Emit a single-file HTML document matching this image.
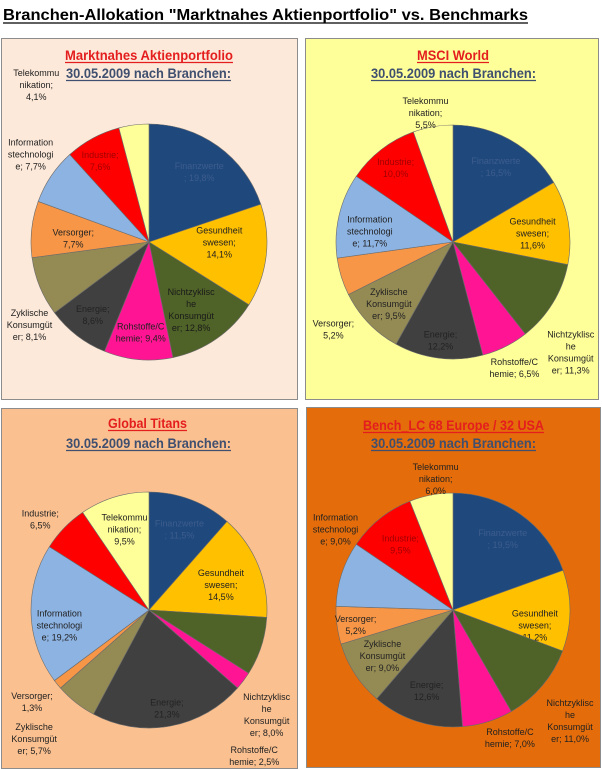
<!DOCTYPE html>
<html><head><meta charset="utf-8"><style>
html,body{margin:0;padding:0;background:#fff;}
svg{display:block;font-family:"Liberation Sans",sans-serif;}
</style></head><body>
<svg id="chart" width="602" height="770" viewBox="0 0 602 770" xmlns="http://www.w3.org/2000/svg">
<text x="3" y="20" font-size="16" font-weight="bold" textLength="525" lengthAdjust="spacingAndGlyphs" fill="#000">Branchen-Allokation "Marktnahes Aktienportfolio" vs. Benchmarks</text>
<line x1="3" y1="23" x2="528" y2="23" stroke="#000" stroke-width="1.3"/>
</svg>
<script>
const categories = ["Finanzwerte","Gesundheitswesen","Nichtzyklische Konsumgüter","Rohstoffe/Chemie","Energie","Zyklische Konsumgüter","Versorger","Informationstechnologie","Industrie","Telekommunikation"];
const seriesMarktnahes = [19.8,14.1,12.8,9.4,8.6,8.1,7.7,7.7,7.6,4.1];
const seriesMSCI = [16.5,11.6,11.3,6.5,12.2,9.5,5.2,11.7,10.0,5.5];
const seriesTitans = [11.5,14.5,8.0,2.5,21.3,5.7,1.3,19.2,6.5,9.5];
const seriesBench = [19.5,11.2,11.0,7.0,12.6,9.0,5.2,9.0,9.5,6.0];
const chartTitles = ["Marktnahes Aktienportfolio","MSCI World","Global Titans","Bench_LC 68 Europe / 32 USA"];
const subTitle = "30.05.2009 nach Branchen:";

const colors = ["#1F497D","#FFC000","#4F6228","#FF1493","#404040","#948A54","#F79646","#8DB3E2","#FF0000","#FFFF99"];
const textCols = ["#3d5c8c","#222","#1a1a1a","#222","#222","#222","#222","#222","#a00000","#222"];
const labelParts = [["Finanzwerte","; "],["Gesundheit","swesen;",""],["Nichtzyklisc","he","Konsumgüt","er; "],["Rohstoffe/C","hemie; "],["Energie;",""],["Zyklische","Konsumgüt","er; "],["Versorger;",""],["Information","stechnologi","e; "],["Industrie;",""],["Telekommu","nikation;",""]];

const panels = [
 {data:seriesMarktnahes,x:1,y:38,w:296,h:361,bg:"#FDE9D9",cx:149,cy:242,r:118,t1:[65,233,60],t2:[66,231,78],
  lab:[[0.73,0,0],[0.6,0,-8],[0.7,-5,0],[0.77,0,0],[0.78,0,0],[1.25,17,27],[0.68,4,5],[1.25,4,-5],[0.78,-5,0],[1.3,-93,-5]]},
 {data:seriesMSCI,x:305,y:38,w:293,h:361,bg:"#FFFF99",cx:453,cy:242,r:117,t1:[417,489,60],t2:[371,536,78],
  lab:[[0.74,0,0],[0.69,0,5],[1.25,-7,34],[1.1,4,11],[0.85,0,0],[0.83,6,-5],[1.25,20,44],[0.73,0,9],[0.8,0,0],[1.12,-5,0]]},
 {data:seriesTitans,x:1,y:408,w:296,h:360,bg:"#FAC090",cx:149,cy:610,r:118,t1:[108,187,428],t2:[66,231,448],
  lab:[[0.73,0,0],[0.66,0,5],[1.2,-17,61],[1.2,-8,61],[0.85,0,0],[1.2,-27,18],[1.2,-7,3],[0.76,0,12],[1.2,-7,8],[0.65,-2,-7]]},
 {data:seriesBench,x:306,y:407,w:294,h:360,bg:"#E46C0A",cx:453,cy:610,r:117,t1:[363,544,430],t2:[371,536,448],
  lab:[[0.74,0,0],[0.7,0,15],[1.2,10,20],[1.12,18,3],[0.73,0,0],[0.72,0,0],[0.84,0,2],[1.2,16,-37],[0.72,0,0],[1.2,9,7]]}
];
const NS="http://www.w3.org/2000/svg";
const svg=document.getElementById('chart');
function mk(tag,attrs,parent){const e=document.createElementNS(NS,tag);for(const k in attrs)e.setAttribute(k,attrs[k]);(parent||svg).appendChild(e);return e;}
function fmt(v){return v.toFixed(1).replace('.',',')+'%';}
function angleScale(cum,total){return cum/total*2*Math.PI;}
function pt(cx,cy,r,a){return [cx+r*Math.sin(a),cy-r*Math.cos(a)];}

panels.forEach((p,pi)=>{
  const g=mk('g',{});
  
  
  const bg=mk('rect',{x:p.x+0.5,y:p.y+0.5,width:p.w,height:p.h,fill:p.bg,stroke:"#8c8c8c","stroke-width":1},g);
  
  
  const t1=mk('text',{x:p.t1[0],y:p.t1[2],"font-size":14,"font-weight":"bold",fill:"#E41E1E",textLength:p.t1[1]-p.t1[0],lengthAdjust:"spacingAndGlyphs"},g);
  t1.textContent=chartTitles[pi];
  
  
  mk('line',{x1:p.t1[0],y1:p.t1[2]+2.5,x2:p.t1[1],y2:p.t1[2]+2.5,stroke:"#E41E1E","stroke-width":1.2},g);
  const t2=mk('text',{x:p.t2[0],y:p.t2[2],"font-size":14,"font-weight":"bold",fill:"#3F4F6F",textLength:p.t2[1]-p.t2[0],lengthAdjust:"spacingAndGlyphs"},g);
  t2.textContent=subTitle;
  
  
  mk('line',{x1:p.t2[0],y1:p.t2[2]+2.5,x2:p.t2[1],y2:p.t2[2]+2.5,stroke:"#3F4F6F","stroke-width":1.2},g);
  const total=p.data.reduce((a,b)=>a+b,0);
  let cum=0;
  p.data.forEach((v,i)=>{
    const a0=angleScale(cum,total), a1=angleScale(cum+v,total); cum+=v;
    const s=pt(p.cx,p.cy,p.r,a0), e=pt(p.cx,p.cy,p.r,a1);
    const large=(a1-a0)>Math.PI?1:0;
    const path=mk('path',{d:`M${p.cx},${p.cy} L${s[0]},${s[1]} A${p.r},${p.r} 0 ${large} 1 ${e[0]},${e[1]} Z`,fill:colors[i],stroke:"#6b6b6b","stroke-width":0.6},g);
    
    
    const am=(a0+a1)/2, L=p.lab[i];
    const c=pt(p.cx,p.cy,p.r*L[0],am);
    const lx=c[0]+L[1], ly=c[1]+L[2];
    const lines=labelParts[i].slice(); lines[lines.length-1]+=fmt(v);
    const inside=L[0]<1;
    const tc=inside?textCols[i]:"#222";
    const tx=mk('text',{x:lx,y:ly-(lines.length-1)*6+3,"font-size":9,"text-anchor":"middle",fill:tc},g);
    
    
    lines.forEach((ln,k)=>{const ts=mk('tspan',{x:lx,dy:k?12:0},tx);ts.textContent=ln;});
  });
});
</script>
</body></html>
